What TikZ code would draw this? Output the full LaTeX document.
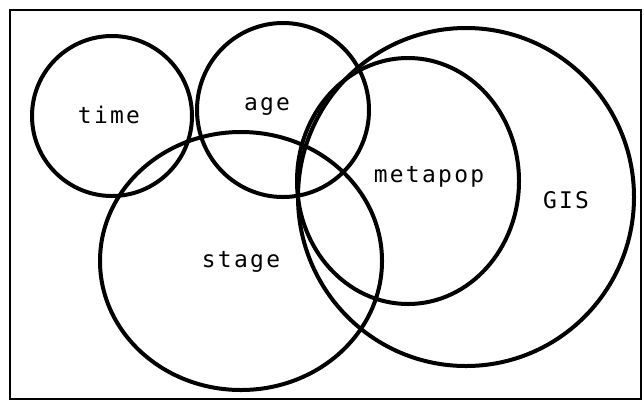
\documentclass[tikz,border=0pt]{standalone}
\usepackage{fontspec}
\newfontfamily\labelfont{DejaVu Sans Mono}[LetterSpace=10]
\begin{document}
\begin{tikzpicture}[x=1bp,y=-1bp,
  setline/.style={draw=black, line width=4bp},
  framebox/.style={draw=black, line width=2.2bp},
  lbl/.style={font=\labelfont\fontsize{23}{23}\selectfont, anchor=base, inner sep=0pt}]
\useasboundingbox (0,0) rectangle (644,402);
\draw[framebox] (10,10) rectangle (641,399);
% sets
\draw[setline] (112,116) ellipse [x radius=80bp, y radius=80bp];
\draw[setline] (283,110) ellipse [x radius=86bp, y radius=87bp];
\draw[setline] (241,261) ellipse [x radius=141bp, y radius=129bp];
\draw[setline] (408,181) ellipse [x radius=111bp, y radius=123bp];
\draw[setline] (466,197) ellipse [x radius=168bp, y radius=169bp];
% labels
\node[lbl] (time) at (109,123.5) {time};
\node[lbl] (age) at (267,110) {age};
\node[lbl] (stage) at (241,267) {stage};
\node[lbl] (metapop) at (429,182) {metapop};
\node[lbl] (gis) at (566,208) {GIS};
\end{tikzpicture}
\end{document}
